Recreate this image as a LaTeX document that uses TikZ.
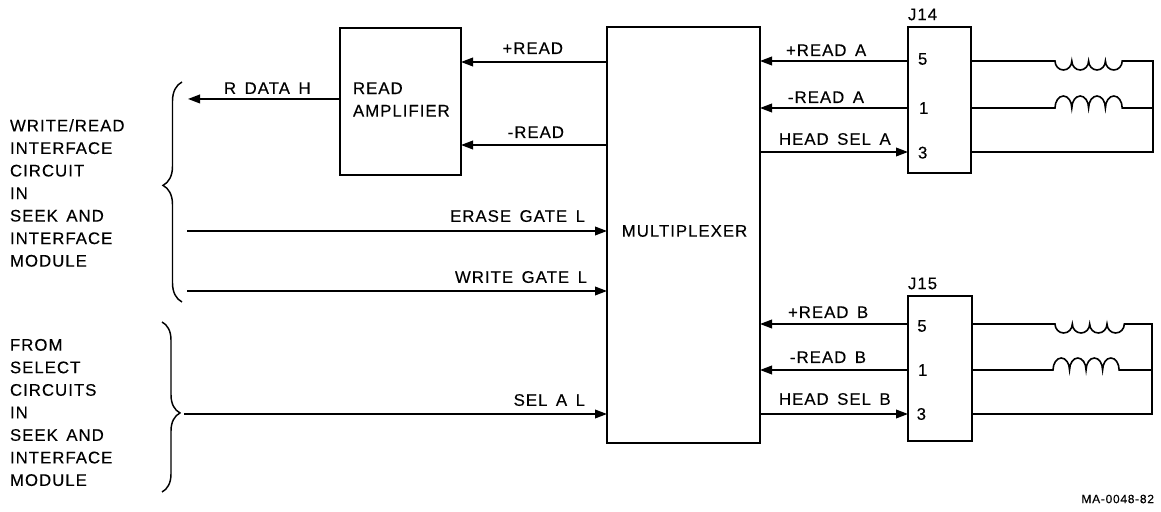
\documentclass[tikz,border=0pt]{standalone}
\usepackage{fontspec}
\setmainfont[LetterSpace=6,WordSpace=1.5,FakeBold=0.25]{Liberation Sans}
\usetikzlibrary{arrows.meta,positioning,decorations.pathreplacing}

\begin{document}
\begin{tikzpicture}[
    x=0.75pt, y=0.75pt,
    box/.style={draw, line width=1.5pt, inner sep=0pt, outer sep=0pt},
    lbl/.style={inner sep=0pt, outer sep=0pt, font=\fontsize{12.6}{16.9}\selectfont},
    sidetext/.style={lbl, align=left, anchor=west},
    wire/.style={line width=1.2pt},
    arr/.style={wire, -{Triangle[length=9pt, width=6.5pt]}},
    curly/.style={line width=1.1pt, decorate}
]
\useasboundingbox (0,0) rectangle (1161,511);

\node[box, anchor=north west, minimum width=114.75pt, minimum height=312pt] (mux) at (607,484) {};
\node[lbl] (muxtext) at ([yshift=-153pt, xshift=0.75pt]mux.north) {MULTIPLEXER};
\node[box, left=109.5pt of mux.north west, anchor=north east, yshift=-0.75pt, minimum width=90.75pt, minimum height=110.25pt] (readamp) {};
\node[lbl, align=left, anchor=west, right=9.75pt of readamp.west, yshift=1.5pt] (readamptext) {READ\\AMPLIFIER};
\node[box, right=111pt of mux.north east, anchor=north west, minimum width=47.25pt, minimum height=109.5pt] (jfourteen) {};
\node[box, below=92.25pt of jfourteen.south west, anchor=north west, minimum width=48pt, minimum height=108.75pt] (jfifteen) {};
\node[lbl, above right=5pt and 0pt of jfourteen.north west] (jfourteentext) {J14};
\node[lbl, above right=5pt and 0pt of jfifteen.north west] (jfifteentext) {J15};

\coordinate (plusread) at ([yshift=-26.25pt]mux.north west);
\coordinate (minusread) at ([yshift=-88.5pt]mux.north west);
\coordinate (erase) at ([yshift=-153pt]mux.north west);
\coordinate (write) at ([yshift=-198pt]mux.north west);
\coordinate (sel) at ([yshift=-290.25pt]mux.north west);
\coordinate (rowafive) at ([yshift=-25.5pt]jfourteen.north west);
\coordinate (rowaone) at ([yshift=-60.75pt]jfourteen.north west);
\coordinate (rowathree) at ([yshift=-93.75pt]jfourteen.north west);
\coordinate (rowbfive) at ([yshift=-21pt]jfifteen.north west);
\coordinate (rowbone) at ([yshift=-55.5pt]jfifteen.north west);
\coordinate (rowbthree) at ([yshift=-88.5pt]jfifteen.north west);
\coordinate (rdataout) at ([xshift=-114pt, yshift=1.9pt]readamp.west);
\coordinate (erasein) at ([xshift=-315pt]erase);
\coordinate (writein) at ([xshift=-315pt]write);
\coordinate (selin) at ([xshift=-317.25pt]sel);
\coordinate (raila) at ([xshift=136.5pt]jfourteen.north east);
\coordinate (railb) at ([xshift=135pt]jfifteen.north east);

\node[lbl, right=7.5pt of rowafive, yshift=1.5pt] (pinafive) {5};
\node[lbl, right=8.25pt of rowaone] (pinaone) {1};
\node[lbl, right=7.5pt of rowathree, yshift=-0.5pt] (pinathree) {3};
\node[lbl, right=7pt of rowbfive, yshift=-1.5pt] (pinbfive) {5};
\node[lbl, right=7.5pt of rowbone] (pinbone) {1};
\node[lbl, right=6.5pt of rowbthree] (pinbthree) {3};

\draw[arr] (plusread) -- (plusread -| readamp.east);
\draw[arr] (minusread) -- (minusread -| readamp.east);
\draw[arr] ([yshift=1.9pt]readamp.west) -- (rdataout);
\draw[arr] (erasein) -- (erase);
\draw[arr] (writein) -- (write);
\draw[arr] (selin) -- (sel);
\draw[arr] (rowafive) -- (rowafive -| mux.east);
\draw[arr] (rowaone) -- (rowaone -| mux.east);
\draw[arr] (rowathree -| mux.east) -- (rowathree);
\draw[arr] (rowbfive) -- (rowbfive -| mux.east);
\draw[arr] (rowbone) -- (rowbone -| mux.east);
\draw[arr] (rowbthree -| mux.east) -- (rowbthree);

\node[lbl, above left=6pt and 33pt of plusread] (plusreadtext) {+READ};
\node[lbl, above left=5.25pt and 32.25pt of minusread] (minusreadtext) {-READ};
\node[lbl, above right=3.75pt and 27pt of rdataout] (rdatatext) {R DATA H};
\node[lbl, above left=6.75pt and 16.5pt of erase] (erasetext) {ERASE GATE L};
\node[lbl, above left=6pt and 15pt of write] (writetext) {WRITE GATE L};
\node[lbl, above left=6pt and 16.5pt of sel] (seltext) {SEL A L};
\node[lbl, above right=3.75pt and 19.5pt of rowafive -| mux.east] (readatext) {+READ A};
\node[lbl, above right=3.75pt and 21pt of rowaone -| mux.east] (minusatext) {-READ A};
\node[lbl, above right=5.25pt and 14.25pt of rowathree -| mux.east] (headatext) {HEAD SEL A};
\node[lbl, above right=4.5pt and 21pt of rowbfive -| mux.east] (readbtext) {+READ B};
\node[lbl, above right=5.25pt and 22.5pt of rowbone -| mux.east] (minusbtext) {-READ B};
\node[lbl, above right=6.75pt and 14.25pt of rowbthree -| mux.east] (headbtext) {HEAD SEL B};

\draw[wire] (rowafive -| jfourteen.east) -- ++(84,0)
    foreach \i in {1,...,4} {arc[start angle=180, end angle=360, x radius=6.3pt, y radius=6.75pt]}
    -- (rowafive -| raila) -- (rowathree -| raila) -- (rowathree -| jfourteen.east);
\draw[wire] (rowaone -| jfourteen.east) -- ++(84,0)
    foreach \i in {1,...,4} {arc[start angle=180, end angle=0, x radius=6.3pt, y radius=9pt]}
    -- (rowaone -| raila);
\draw[wire] (rowbfive -| jfifteen.east) -- ++(83,0)
    foreach \i in {1,...,4} {arc[start angle=180, end angle=360, x radius=6.5pt, y radius=6.75pt]}
    -- (rowbfive -| railb) -- (rowbthree -| railb) -- (rowbthree -| jfifteen.east);
\draw[wire] (rowbone -| jfifteen.east) -- ++(81,0)
    foreach \i in {1,...,4} {arc[start angle=180, end angle=0, x radius=6.2pt, y radius=9pt]}
    -- (rowbone -| railb);

\draw[curly, decoration={brace, amplitude=14.25pt, aspect=0.53}] (182,209) -- (182,429);
\draw[curly, decoration={brace, amplitude=13.5pt, aspect=0.535}] (162,189) -- (162,19);

\node[sidetext] (writereadtext) at (10,318) {WRITE/READ\\INTERFACE\\CIRCUIT\\IN\\SEEK AND\\INTERFACE\\MODULE};
\node[sidetext] (selecttext) at (10,98.5) {FROM\\SELECT\\CIRCUITS\\IN\\SEEK AND\\INTERFACE\\MODULE};
\node[lbl, anchor=east, font=\fontsize{9}{11}\selectfont] (figtext) at (1154,12) {MA-0048-82};
\end{tikzpicture}
\end{document}
